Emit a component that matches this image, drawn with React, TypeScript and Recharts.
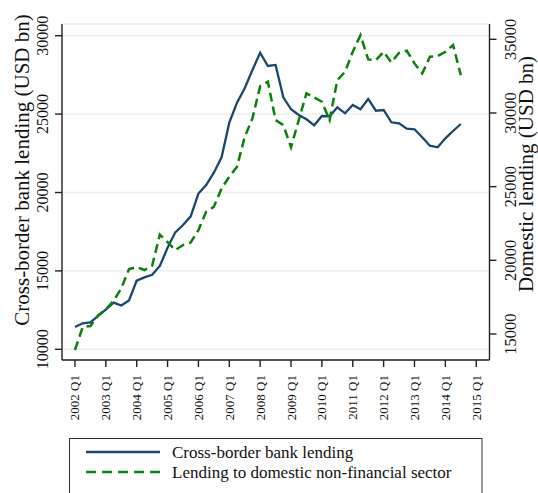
import React from 'react';
import { LineChart, Line, XAxis, YAxis, CartesianGrid } from 'recharts';

const FONT = '"Liberation Serif", "Times New Roman", serif';

const categories = [
  '2002 Q1', '2002 Q2', '2002 Q3', '2002 Q4',
  '2003 Q1', '2003 Q2', '2003 Q3', '2003 Q4',
  '2004 Q1', '2004 Q2', '2004 Q3', '2004 Q4',
  '2005 Q1', '2005 Q2', '2005 Q3', '2005 Q4',
  '2006 Q1', '2006 Q2', '2006 Q3', '2006 Q4',
  '2007 Q1', '2007 Q2', '2007 Q3', '2007 Q4',
  '2008 Q1', '2008 Q2', '2008 Q3', '2008 Q4',
  '2009 Q1', '2009 Q2', '2009 Q3', '2009 Q4',
  '2010 Q1', '2010 Q2', '2010 Q3', '2010 Q4',
  '2011 Q1', '2011 Q2', '2011 Q3', '2011 Q4',
  '2012 Q1', '2012 Q2', '2012 Q3', '2012 Q4',
  '2013 Q1', '2013 Q2', '2013 Q3', '2013 Q4',
  '2014 Q1', '2014 Q2', '2014 Q3',
];

const crossBorder = [
  11420, 11658, 11720, 12130, 12530, 12973, 12795, 13120,
  14375, 14590, 14750, 15313, 16480, 17460, 17928, 18480,
  19930, 20479, 21264, 22245, 24453, 25729, 26647, 27814,
  28917, 28070, 28133, 26072, 25307, 24943, 24669, 24286,
  24880, 24860, 25435, 25052, 25581, 25307, 25964, 25218,
  25262, 24478, 24414, 24070, 24031, 23521, 22985, 22883,
  23457, 23923, 24369,
];

const domestic = [
  13915, 15470, 15543, 16260, 16680, 17250, 18100, 19400,
  19540, 19342, 19640, 21740, 21235, 20699, 21038, 21219,
  22055, 23297, 23636, 24884, 25671, 26350, 28385, 29633,
  31824, 32116, 29518, 29178, 27666, 29518, 31329, 31057,
  30760, 29518, 32231, 32795, 34151, 35284, 33635, 33588,
  34151, 33432, 34083, 34219, 33364, 32686, 33812, 33860,
  34151, 34606, 32570,
];

const xTickIndex = [0, 4, 8, 12, 16, 20, 24, 28, 32, 36, 40, 44, 48, 52];
const xTickLabels = [
  '2002 Q1', '2003 Q1', '2004 Q1', '2005 Q1', '2006 Q1', '2007 Q1', '2008 Q1',
  '2009 Q1', '2010 Q1', '2011 Q1', '2012 Q1', '2013 Q1', '2014 Q1', '2015 Q1',
];
const leftTicks = [10000, 15000, 20000, 25000, 30000];
const rightTicks = [15000, 20000, 25000, 30000, 35000];

const seriesNames = ['Cross-border bank lending', 'Lending to domestic non-financial sector'];
const leftTitle = 'Cross-border bank lending (USD bn)';
const rightTitle = 'Domestic lending (USD bn)';

const BLUE = '#1a476f';
const GREEN = '#0b800b';
const AXIS = '#222222';
const GRID = '#e6eef0';

const data = categories.map((q, i) => ({
  idx: i,
  quarter: q,
  cross: crossBorder[i],
  domestic: domestic[i],
}));

const XTick = (props: any) => {
  const { x, payload } = props;
  const k = xTickIndex.indexOf(payload.value);
  return (
    <text
      transform={`translate(${x}, 375) rotate(-90)`}
      textAnchor="end"
      dominantBaseline="central"
      fontSize={13}
      fontFamily={FONT}
      fill="#111"
    >
      {xTickLabels[k]}
    </text>
  );
};

const LeftTick = (props: any) => {
  const { y, payload } = props;
  return (
    <text
      transform={`translate(42, ${y}) rotate(-90)`}
      textAnchor="middle"
      dominantBaseline="central"
      fontSize={16}
      fontFamily={FONT}
      fill="#111"
    >
      {payload.value}
    </text>
  );
};

const RightTick = (props: any) => {
  const { y, payload } = props;
  return (
    <text
      transform={`translate(510, ${y}) rotate(-90)`}
      textAnchor="middle"
      dominantBaseline="central"
      fontSize={16.5}
      fontFamily={FONT}
      fill="#111"
    >
      {payload.value}
    </text>
  );
};

const AxisTitle = (props: any) => {
  const { cx, cy, text, size } = props;
  return (
    <text
      transform={`translate(${cx}, ${cy}) rotate(-90)`}
      textAnchor="middle"
      dominantBaseline="central"
      fontSize={size}
      fontFamily={FONT}
      fill="#111"
    >
      {text}
    </text>
  );
};

export default function App() {
  return (
    <div
      style={{
        position: 'absolute',
        left: 0,
        top: 0,
        width: 538,
        height: 493,
        overflow: 'hidden',
        background: '#ffffff',
        fontFamily: FONT,
      }}
    >
      <LineChart
        width={538}
        height={493}
        data={data}
        margin={{ top: 24, right: 0, left: 0, bottom: 73 }}
      >
        <CartesianGrid
          yAxisId="left"
          vertical={false}
          stroke={GRID}
          strokeWidth={1.4}
        />
        <XAxis
          type="number"
          dataKey="idx"
          domain={[-1.68, 53.72]}
          allowDataOverflow
          ticks={xTickIndex}
          interval={0}
          height={60}
          tickSize={7}
          tick={<XTick />}
          axisLine={{ stroke: AXIS, strokeWidth: 1.4 }}
          tickLine={{ stroke: AXIS, strokeWidth: 1.4 }}
        />
        <YAxis
          yAxisId="left"
          orientation="left"
          domain={[9318, 30746]}
          allowDataOverflow
          ticks={leftTicks}
          interval={0}
          width={62}
          tickSize={7}
          tick={<LeftTick />}
          axisLine={{ stroke: AXIS, strokeWidth: 1.4 }}
          tickLine={{ stroke: AXIS, strokeWidth: 1.4 }}
          label={<AxisTitle cx={22} cy={170} text={leftTitle} size={21} />}
        />
        <YAxis
          yAxisId="right"
          orientation="right"
          domain={[13236, 36038]}
          allowDataOverflow
          ticks={rightTicks}
          interval={0}
          width={48.5}
          tickSize={7}
          tick={<RightTick />}
          axisLine={{ stroke: AXIS, strokeWidth: 1.4 }}
          tickLine={{ stroke: AXIS, strokeWidth: 1.4 }}
          label={<AxisTitle cx={526} cy={174} text={rightTitle} size={21} />}
        />
        <Line
          yAxisId="left"
          type="linear"
          dataKey="cross"
          name={seriesNames[0]}
          stroke={BLUE}
          strokeWidth={2.3}
          dot={false}
          isAnimationActive={false}
        />
        <Line
          yAxisId="right"
          type="linear"
          dataKey="domestic"
          name={seriesNames[1]}
          stroke={GREEN}
          strokeWidth={2.5}
          strokeDasharray="9 5"
          dot={false}
          isAnimationActive={false}
        />
      </LineChart>
      <svg
        width={538}
        height={493}
        style={{ position: 'absolute', left: 0, top: 0, pointerEvents: 'none' }}
      >
        <rect x={69.5} y={438.5} width={412.5} height={90} fill="none" stroke="#333" strokeWidth={1} />
        <line x1={86} y1={452} x2={160} y2={452} stroke={BLUE} strokeWidth={2.3} />
        <text x={172} y={452} dominantBaseline="central" fontSize={17} fontFamily={FONT} fill="#111">
          {seriesNames[0]}
        </text>
        <line x1={86} y1={472} x2={160} y2={472} stroke={GREEN} strokeWidth={2.5} strokeDasharray="10 6" />
        <text x={172} y={472} dominantBaseline="central" fontSize={17} fontFamily={FONT} fill="#111">
          {seriesNames[1]}
        </text>
      </svg>
    </div>
  );
}
